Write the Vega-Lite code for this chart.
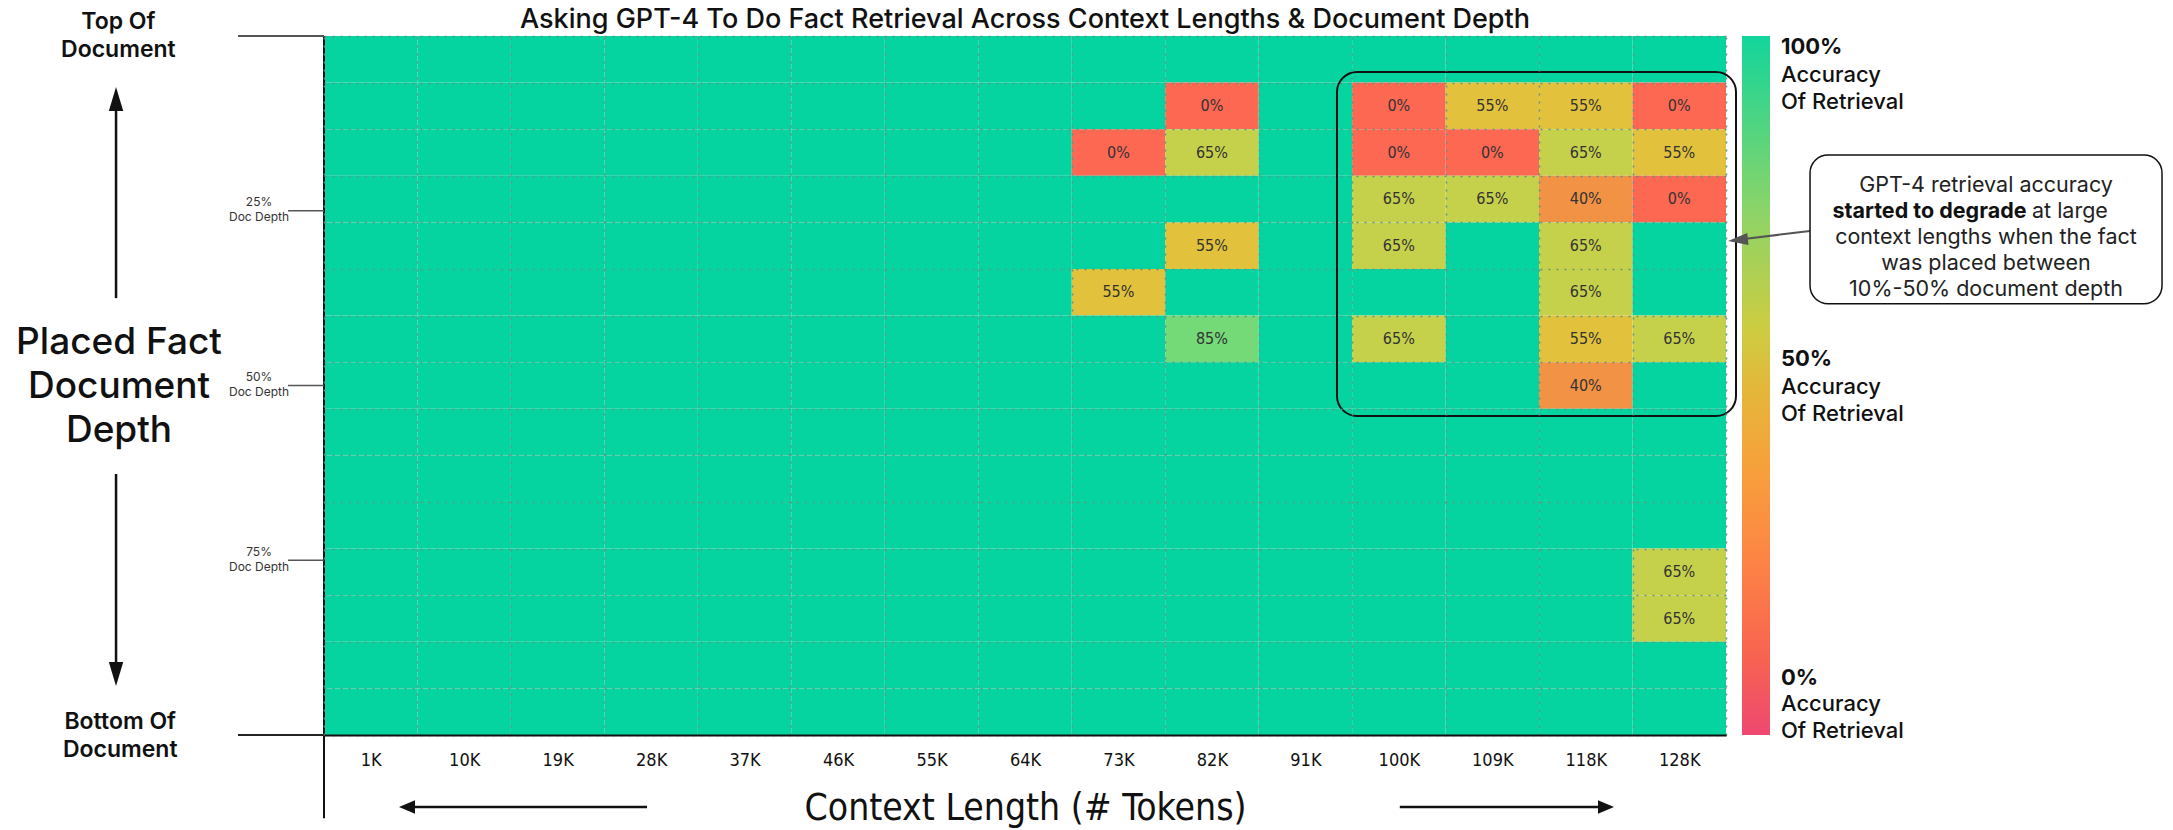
{
  "$schema": "https://vega.github.io/schema/vega-lite/v6.json",
  "width": 1402,
  "height": 699,
  "autosize": {"type": "none"},
  "padding": {"left": 324, "top": 36, "right": 447, "bottom": 95},
  "background": "white",
  "config": {"view": {"stroke": null}, "font": "Inter"},
  "title": {"text": "Asking GPT-4 To Do Fact Retrieval Across Context Lengths & Document Depth", "anchor": "middle", "frame": "group", "fontSize": 27, "fontWeight": 500, "font": "Inter", "color": "#111", "baseline": "alphabetic", "offset": -44},
  "datasets": {
    "one": [{}],
    "ticks": [{"depth": 25, "label": "25%\nDoc Depth"}, {"depth": 50, "label": "50%\nDoc Depth"}, {"depth": 75, "label": "75%\nDoc Depth"}],
    "cells": [
      {"context":"1K","depth":0,"accuracy":1},{"context":"10K","depth":0,"accuracy":1},{"context":"19K","depth":0,"accuracy":1},{"context":"28K","depth":0,"accuracy":1},{"context":"37K","depth":0,"accuracy":1},{"context":"46K","depth":0,"accuracy":1},{"context":"55K","depth":0,"accuracy":1},{"context":"64K","depth":0,"accuracy":1},{"context":"73K","depth":0,"accuracy":1},{"context":"82K","depth":0,"accuracy":1},{"context":"91K","depth":0,"accuracy":1},{"context":"100K","depth":0,"accuracy":1},{"context":"109K","depth":0,"accuracy":1},{"context":"118K","depth":0,"accuracy":1},{"context":"128K","depth":0,"accuracy":1},
      {"context":"1K","depth":7,"accuracy":1},{"context":"10K","depth":7,"accuracy":1},{"context":"19K","depth":7,"accuracy":1},{"context":"28K","depth":7,"accuracy":1},{"context":"37K","depth":7,"accuracy":1},{"context":"46K","depth":7,"accuracy":1},{"context":"55K","depth":7,"accuracy":1},{"context":"64K","depth":7,"accuracy":1},{"context":"73K","depth":7,"accuracy":1},{"context":"82K","depth":7,"accuracy":0},{"context":"91K","depth":7,"accuracy":1},{"context":"100K","depth":7,"accuracy":0},{"context":"109K","depth":7,"accuracy":0.55},{"context":"118K","depth":7,"accuracy":0.55},{"context":"128K","depth":7,"accuracy":0},
      {"context":"1K","depth":14,"accuracy":1},{"context":"10K","depth":14,"accuracy":1},{"context":"19K","depth":14,"accuracy":1},{"context":"28K","depth":14,"accuracy":1},{"context":"37K","depth":14,"accuracy":1},{"context":"46K","depth":14,"accuracy":1},{"context":"55K","depth":14,"accuracy":1},{"context":"64K","depth":14,"accuracy":1},{"context":"73K","depth":14,"accuracy":0},{"context":"82K","depth":14,"accuracy":0.65},{"context":"91K","depth":14,"accuracy":1},{"context":"100K","depth":14,"accuracy":0},{"context":"109K","depth":14,"accuracy":0},{"context":"118K","depth":14,"accuracy":0.65},{"context":"128K","depth":14,"accuracy":0.55},
      {"context":"1K","depth":21,"accuracy":1},{"context":"10K","depth":21,"accuracy":1},{"context":"19K","depth":21,"accuracy":1},{"context":"28K","depth":21,"accuracy":1},{"context":"37K","depth":21,"accuracy":1},{"context":"46K","depth":21,"accuracy":1},{"context":"55K","depth":21,"accuracy":1},{"context":"64K","depth":21,"accuracy":1},{"context":"73K","depth":21,"accuracy":1},{"context":"82K","depth":21,"accuracy":1},{"context":"91K","depth":21,"accuracy":1},{"context":"100K","depth":21,"accuracy":0.65},{"context":"109K","depth":21,"accuracy":0.65},{"context":"118K","depth":21,"accuracy":0.4},{"context":"128K","depth":21,"accuracy":0},
      {"context":"1K","depth":29,"accuracy":1},{"context":"10K","depth":29,"accuracy":1},{"context":"19K","depth":29,"accuracy":1},{"context":"28K","depth":29,"accuracy":1},{"context":"37K","depth":29,"accuracy":1},{"context":"46K","depth":29,"accuracy":1},{"context":"55K","depth":29,"accuracy":1},{"context":"64K","depth":29,"accuracy":1},{"context":"73K","depth":29,"accuracy":1},{"context":"82K","depth":29,"accuracy":0.55},{"context":"91K","depth":29,"accuracy":1},{"context":"100K","depth":29,"accuracy":0.65},{"context":"109K","depth":29,"accuracy":1},{"context":"118K","depth":29,"accuracy":0.65},{"context":"128K","depth":29,"accuracy":1},
      {"context":"1K","depth":36,"accuracy":1},{"context":"10K","depth":36,"accuracy":1},{"context":"19K","depth":36,"accuracy":1},{"context":"28K","depth":36,"accuracy":1},{"context":"37K","depth":36,"accuracy":1},{"context":"46K","depth":36,"accuracy":1},{"context":"55K","depth":36,"accuracy":1},{"context":"64K","depth":36,"accuracy":1},{"context":"73K","depth":36,"accuracy":0.55},{"context":"82K","depth":36,"accuracy":1},{"context":"91K","depth":36,"accuracy":1},{"context":"100K","depth":36,"accuracy":1},{"context":"109K","depth":36,"accuracy":1},{"context":"118K","depth":36,"accuracy":0.65},{"context":"128K","depth":36,"accuracy":1},
      {"context":"1K","depth":43,"accuracy":1},{"context":"10K","depth":43,"accuracy":1},{"context":"19K","depth":43,"accuracy":1},{"context":"28K","depth":43,"accuracy":1},{"context":"37K","depth":43,"accuracy":1},{"context":"46K","depth":43,"accuracy":1},{"context":"55K","depth":43,"accuracy":1},{"context":"64K","depth":43,"accuracy":1},{"context":"73K","depth":43,"accuracy":1},{"context":"82K","depth":43,"accuracy":0.85},{"context":"91K","depth":43,"accuracy":1},{"context":"100K","depth":43,"accuracy":0.65},{"context":"109K","depth":43,"accuracy":1},{"context":"118K","depth":43,"accuracy":0.55},{"context":"128K","depth":43,"accuracy":0.65},
      {"context":"1K","depth":50,"accuracy":1},{"context":"10K","depth":50,"accuracy":1},{"context":"19K","depth":50,"accuracy":1},{"context":"28K","depth":50,"accuracy":1},{"context":"37K","depth":50,"accuracy":1},{"context":"46K","depth":50,"accuracy":1},{"context":"55K","depth":50,"accuracy":1},{"context":"64K","depth":50,"accuracy":1},{"context":"73K","depth":50,"accuracy":1},{"context":"82K","depth":50,"accuracy":1},{"context":"91K","depth":50,"accuracy":1},{"context":"100K","depth":50,"accuracy":1},{"context":"109K","depth":50,"accuracy":1},{"context":"118K","depth":50,"accuracy":0.4},{"context":"128K","depth":50,"accuracy":1},
      {"context":"1K","depth":57,"accuracy":1},{"context":"10K","depth":57,"accuracy":1},{"context":"19K","depth":57,"accuracy":1},{"context":"28K","depth":57,"accuracy":1},{"context":"37K","depth":57,"accuracy":1},{"context":"46K","depth":57,"accuracy":1},{"context":"55K","depth":57,"accuracy":1},{"context":"64K","depth":57,"accuracy":1},{"context":"73K","depth":57,"accuracy":1},{"context":"82K","depth":57,"accuracy":1},{"context":"91K","depth":57,"accuracy":1},{"context":"100K","depth":57,"accuracy":1},{"context":"109K","depth":57,"accuracy":1},{"context":"118K","depth":57,"accuracy":1},{"context":"128K","depth":57,"accuracy":1},
      {"context":"1K","depth":64,"accuracy":1},{"context":"10K","depth":64,"accuracy":1},{"context":"19K","depth":64,"accuracy":1},{"context":"28K","depth":64,"accuracy":1},{"context":"37K","depth":64,"accuracy":1},{"context":"46K","depth":64,"accuracy":1},{"context":"55K","depth":64,"accuracy":1},{"context":"64K","depth":64,"accuracy":1},{"context":"73K","depth":64,"accuracy":1},{"context":"82K","depth":64,"accuracy":1},{"context":"91K","depth":64,"accuracy":1},{"context":"100K","depth":64,"accuracy":1},{"context":"109K","depth":64,"accuracy":1},{"context":"118K","depth":64,"accuracy":1},{"context":"128K","depth":64,"accuracy":1},
      {"context":"1K","depth":71,"accuracy":1},{"context":"10K","depth":71,"accuracy":1},{"context":"19K","depth":71,"accuracy":1},{"context":"28K","depth":71,"accuracy":1},{"context":"37K","depth":71,"accuracy":1},{"context":"46K","depth":71,"accuracy":1},{"context":"55K","depth":71,"accuracy":1},{"context":"64K","depth":71,"accuracy":1},{"context":"73K","depth":71,"accuracy":1},{"context":"82K","depth":71,"accuracy":1},{"context":"91K","depth":71,"accuracy":1},{"context":"100K","depth":71,"accuracy":1},{"context":"109K","depth":71,"accuracy":1},{"context":"118K","depth":71,"accuracy":1},{"context":"128K","depth":71,"accuracy":1},
      {"context":"1K","depth":79,"accuracy":1},{"context":"10K","depth":79,"accuracy":1},{"context":"19K","depth":79,"accuracy":1},{"context":"28K","depth":79,"accuracy":1},{"context":"37K","depth":79,"accuracy":1},{"context":"46K","depth":79,"accuracy":1},{"context":"55K","depth":79,"accuracy":1},{"context":"64K","depth":79,"accuracy":1},{"context":"73K","depth":79,"accuracy":1},{"context":"82K","depth":79,"accuracy":1},{"context":"91K","depth":79,"accuracy":1},{"context":"100K","depth":79,"accuracy":1},{"context":"109K","depth":79,"accuracy":1},{"context":"118K","depth":79,"accuracy":1},{"context":"128K","depth":79,"accuracy":0.65},
      {"context":"1K","depth":86,"accuracy":1},{"context":"10K","depth":86,"accuracy":1},{"context":"19K","depth":86,"accuracy":1},{"context":"28K","depth":86,"accuracy":1},{"context":"37K","depth":86,"accuracy":1},{"context":"46K","depth":86,"accuracy":1},{"context":"55K","depth":86,"accuracy":1},{"context":"64K","depth":86,"accuracy":1},{"context":"73K","depth":86,"accuracy":1},{"context":"82K","depth":86,"accuracy":1},{"context":"91K","depth":86,"accuracy":1},{"context":"100K","depth":86,"accuracy":1},{"context":"109K","depth":86,"accuracy":1},{"context":"118K","depth":86,"accuracy":1},{"context":"128K","depth":86,"accuracy":0.65},
      {"context":"1K","depth":93,"accuracy":1},{"context":"10K","depth":93,"accuracy":1},{"context":"19K","depth":93,"accuracy":1},{"context":"28K","depth":93,"accuracy":1},{"context":"37K","depth":93,"accuracy":1},{"context":"46K","depth":93,"accuracy":1},{"context":"55K","depth":93,"accuracy":1},{"context":"64K","depth":93,"accuracy":1},{"context":"73K","depth":93,"accuracy":1},{"context":"82K","depth":93,"accuracy":1},{"context":"91K","depth":93,"accuracy":1},{"context":"100K","depth":93,"accuracy":1},{"context":"109K","depth":93,"accuracy":1},{"context":"118K","depth":93,"accuracy":1},{"context":"128K","depth":93,"accuracy":1},
      {"context":"1K","depth":100,"accuracy":1},{"context":"10K","depth":100,"accuracy":1},{"context":"19K","depth":100,"accuracy":1},{"context":"28K","depth":100,"accuracy":1},{"context":"37K","depth":100,"accuracy":1},{"context":"46K","depth":100,"accuracy":1},{"context":"55K","depth":100,"accuracy":1},{"context":"64K","depth":100,"accuracy":1},{"context":"73K","depth":100,"accuracy":1},{"context":"82K","depth":100,"accuracy":1},{"context":"91K","depth":100,"accuracy":1},{"context":"100K","depth":100,"accuracy":1},{"context":"109K","depth":100,"accuracy":1},{"context":"118K","depth":100,"accuracy":1},{"context":"128K","depth":100,"accuracy":1}
    ]
  },
  "layer": [
    {
      "data": {"name": "cells"},
      "encoding": {
        "x": {"field": "context", "type": "nominal", "sort": ["1K","10K","19K","28K","37K","46K","55K","64K","73K","82K","91K","100K","109K","118K","128K"], "scale": {"paddingInner": 0, "paddingOuter": 0},
          "axis": {"orient": "bottom", "title": "Context Length (# Tokens)", "labelAngle": 0, "labelFont": "Liberation Sans Narrow, DejaVu Sans Condensed, Arial Narrow, sans-serif", "labelFontSize": 18, "labelColor": "#111", "labelBaseline": "middle", "labelPadding": 25, "ticks": false, "tickSize": 0, "domain": true, "domainColor": "#111", "domainWidth": 2, "grid": true, "gridColor": "#5f9484", "gridDash": [2, 6], "gridWidth": 1.5, "tickBand": "extent", "zindex": 1, "titleFont": "Liberation Sans Narrow, DejaVu Sans Condensed, Arial Narrow, sans-serif", "titleFontSize": 37, "titleFontWeight": "normal", "titleColor": "#111", "titleY": 73, "titleBaseline": "middle"}},
        "y": {"field": "depth", "type": "ordinal", "scale": {"paddingInner": 0, "paddingOuter": 0},
          "axis": {"orient": "left", "labels": false, "ticks": false, "domain": false, "title": null, "grid": true, "gridColor": "#5f9484", "gridDash": [2, 6], "gridWidth": 1.5, "tickBand": "extent", "zindex": 1}}
      },
      "layer": [
        {"mark": {"type": "rect"},
         "encoding": {"color": {"field": "accuracy", "type": "quantitative",
           "scale": {"domain": [0, 0.4, 0.55, 0.65, 0.85, 1], "range": ["#fd6853", "#f29244", "#e2c23c", "#c6d14b", "#74d977", "#06d4a0"], "interpolate": "rgb"},
           "legend": null}}},
        {"transform": [{"filter": "datum.accuracy < 1"}],
         "mark": {"type": "text", "font": "Liberation Sans Narrow, DejaVu Sans Condensed, Arial Narrow, sans-serif", "fontSize": 16, "color": "#333"},
         "encoding": {"text": {"field": "accuracy", "type": "quantitative", "format": ".0%"}}}
      ]
    },
    {
      "layer": [
        {"data": {"name": "one"},
         "mark": {"type": "rule", "color": "#111", "strokeWidth": 2},
         "encoding": {"x": {"datum": 0, "type": "quantitative", "scale": {"domain": [0, 15], "nice": false, "zero": false}, "axis": null},
           "y": {"datum": 0, "type": "quantitative", "scale": {"domain": [0, 100], "nice": false, "zero": false, "reverse": true}, "axis": null},
           "y2": {"datum": 111.9}}},
        {"data": {"name": "ticks"},
         "mark": {"type": "rule", "color": "#555", "strokeWidth": 1.5},
         "encoding": {"x": {"datum": -0.385, "type": "quantitative", "scale": {"domain": [0, 15], "nice": false, "zero": false}, "axis": null}, "x2": {"datum": 0},
           "y": {"field": "depth", "type": "quantitative", "scale": {"domain": [0, 100], "nice": false, "zero": false, "reverse": true}, "axis": null}}},
        {"data": {"name": "ticks"},
         "mark": {"type": "text", "lineBreak": "\n", "font": "Inter", "fontSize": 12, "lineHeight": 15, "align": "center", "baseline": "middle", "color": "#333", "dy": -8.5},
         "encoding": {"x": {"datum": -0.695, "type": "quantitative", "scale": {"domain": [0, 15], "nice": false, "zero": false}, "axis": null},
           "y": {"field": "depth", "type": "quantitative", "scale": {"domain": [0, 100], "nice": false, "zero": false, "reverse": true}, "axis": null},
           "text": {"field": "label", "type": "nominal"}}},
        {"data": {"name": "one"},
         "mark": {"type": "rule", "color": "#555", "strokeWidth": 2},
         "encoding": {"x": {"datum": -0.92, "type": "quantitative", "scale": {"domain": [0, 15], "nice": false, "zero": false}, "axis": null}, "x2": {"datum": 0},
           "y": {"datum": 0, "type": "quantitative", "scale": {"domain": [0, 100], "nice": false, "zero": false, "reverse": true}, "axis": null}}},
        {"data": {"name": "one"},
         "mark": {"type": "rule", "color": "#222", "strokeWidth": 2},
         "encoding": {"x": {"datum": -0.92, "type": "quantitative", "scale": {"domain": [0, 15], "nice": false, "zero": false}, "axis": null}, "x2": {"datum": 0},
           "y": {"datum": 100, "type": "quantitative", "scale": {"domain": [0, 100], "nice": false, "zero": false, "reverse": true}, "axis": null}}},
        {"data": {"name": "one"},
         "mark": {"type": "text", "text": "Top Of\nDocument", "lineBreak": "\n", "font": "Inter", "fontSize": 23, "fontWeight": 600, "lineHeight": 28, "align": "center", "baseline": "middle", "color": "#111"},
         "encoding": {"x": {"datum": -2.2, "type": "quantitative", "scale": {"domain": [0, 15], "nice": false, "zero": false}, "axis": null},
           "y": {"datum": -2.0, "type": "quantitative", "scale": {"domain": [0, 100], "nice": false, "zero": false, "reverse": true}, "axis": null}}},
        {"data": {"name": "one"},
         "mark": {"type": "text", "text": "Placed Fact\nDocument\nDepth", "lineBreak": "\n", "font": "Inter", "fontSize": 37, "fontWeight": 500, "lineHeight": 44, "align": "center", "baseline": "middle", "color": "#111"},
         "encoding": {"x": {"datum": -2.193, "type": "quantitative", "scale": {"domain": [0, 15], "nice": false, "zero": false}, "axis": null},
           "y": {"datum": 43.92, "type": "quantitative", "scale": {"domain": [0, 100], "nice": false, "zero": false, "reverse": true}, "axis": null}}},
        {"data": {"name": "one"},
         "mark": {"type": "text", "text": "Bottom Of\nDocument", "lineBreak": "\n", "font": "Inter", "fontSize": 23, "fontWeight": 600, "lineHeight": 28, "align": "center", "baseline": "middle", "color": "#111"},
         "encoding": {"x": {"datum": -2.18, "type": "quantitative", "scale": {"domain": [0, 15], "nice": false, "zero": false}, "axis": null},
           "y": {"datum": 98.14, "type": "quantitative", "scale": {"domain": [0, 100], "nice": false, "zero": false, "reverse": true}, "axis": null}}},
        {"data": {"name": "one"},
         "mark": {"type": "rule", "color": "#111", "strokeWidth": 2.5},
         "encoding": {"x": {"datum": -2.225, "type": "quantitative", "scale": {"domain": [0, 15], "nice": false, "zero": false}, "axis": null},
           "y": {"datum": 37.5, "type": "quantitative", "scale": {"domain": [0, 100], "nice": false, "zero": false, "reverse": true}, "axis": null}, "y2": {"datum": 9.3}}},
        {"data": {"name": "one"},
         "mark": {"type": "point", "shape": "M0,-1L0.6,1L-0.6,1Z", "filled": true, "color": "#111", "opacity": 1, "size": 576},
         "encoding": {"x": {"datum": -2.225, "type": "quantitative", "scale": {"domain": [0, 15], "nice": false, "zero": false}, "axis": null},
           "y": {"datum": 9.01, "type": "quantitative", "scale": {"domain": [0, 100], "nice": false, "zero": false, "reverse": true}, "axis": null}}},
        {"data": {"name": "one"},
         "mark": {"type": "rule", "color": "#111", "strokeWidth": 2.5},
         "encoding": {"x": {"datum": -2.225, "type": "quantitative", "scale": {"domain": [0, 15], "nice": false, "zero": false}, "axis": null},
           "y": {"datum": 62.66, "type": "quantitative", "scale": {"domain": [0, 100], "nice": false, "zero": false, "reverse": true}, "axis": null}, "y2": {"datum": 91.0}}},
        {"data": {"name": "one"},
         "mark": {"type": "point", "shape": "M0,1L0.6,-1L-0.6,-1Z", "filled": true, "color": "#111", "opacity": 1, "size": 576},
         "encoding": {"x": {"datum": -2.225, "type": "quantitative", "scale": {"domain": [0, 15], "nice": false, "zero": false}, "axis": null},
           "y": {"datum": 91.27, "type": "quantitative", "scale": {"domain": [0, 100], "nice": false, "zero": false, "reverse": true}, "axis": null}}},
        {"data": {"name": "one"},
         "mark": {"type": "rule", "color": "#111", "strokeWidth": 2.5},
         "encoding": {"x": {"datum": 3.456, "type": "quantitative", "scale": {"domain": [0, 15], "nice": false, "zero": false}, "axis": null}, "x2": {"datum": 0.95},
           "y": {"datum": 110.3, "type": "quantitative", "scale": {"domain": [0, 100], "nice": false, "zero": false, "reverse": true}, "axis": null}}},
        {"data": {"name": "one"},
         "mark": {"type": "point", "shape": "M-1,0L1,-0.85L1,0.85Z", "filled": true, "color": "#111", "opacity": 1, "size": 256},
         "encoding": {"x": {"datum": 0.888, "type": "quantitative", "scale": {"domain": [0, 15], "nice": false, "zero": false}, "axis": null},
           "y": {"datum": 110.3, "type": "quantitative", "scale": {"domain": [0, 100], "nice": false, "zero": false, "reverse": true}, "axis": null}}},
        {"data": {"name": "one"},
         "mark": {"type": "rule", "color": "#111", "strokeWidth": 2.5},
         "encoding": {"x": {"datum": 11.51, "type": "quantitative", "scale": {"domain": [0, 15], "nice": false, "zero": false}, "axis": null}, "x2": {"datum": 13.65},
           "y": {"datum": 110.3, "type": "quantitative", "scale": {"domain": [0, 100], "nice": false, "zero": false, "reverse": true}, "axis": null}}},
        {"data": {"name": "one"},
         "mark": {"type": "point", "shape": "M1,0L-1,-0.85L-1,0.85Z", "filled": true, "color": "#111", "opacity": 1, "size": 256},
         "encoding": {"x": {"datum": 13.716, "type": "quantitative", "scale": {"domain": [0, 15], "nice": false, "zero": false}, "axis": null},
           "y": {"datum": 110.3, "type": "quantitative", "scale": {"domain": [0, 100], "nice": false, "zero": false, "reverse": true}, "axis": null}}},
        {"data": {"name": "one"},
         "mark": {"type": "rect", "fill": "transparent", "stroke": "#111", "strokeWidth": 2, "cornerRadius": 20},
         "encoding": {"x": {"datum": 10.838, "type": "quantitative", "scale": {"domain": [0, 15], "nice": false, "zero": false}, "axis": null}, "x2": {"datum": 15.107},
           "y": {"datum": 5.15, "type": "quantitative", "scale": {"domain": [0, 100], "nice": false, "zero": false, "reverse": true}, "axis": null}, "y2": {"datum": 54.36}}},
        {"data": {"name": "one"},
         "mark": {"type": "rect", "color": {"gradient": "linear", "x1": 0, "y1": 0, "x2": 0, "y2": 1, "stops": [{"offset": 0, "color": "#12d59b"}, {"offset": 0.25, "color": "#8cd468"}, {"offset": 0.42, "color": "#cdcc40"}, {"offset": 0.5, "color": "#e3b83a"}, {"offset": 0.62, "color": "#f7a03b"}, {"offset": 0.75, "color": "#fd8445"}, {"offset": 0.88, "color": "#f8654f"}, {"offset": 1, "color": "#ee4870"}]}},
         "encoding": {"x": {"datum": 15.171, "type": "quantitative", "scale": {"domain": [0, 15], "nice": false, "zero": false}, "axis": null}, "x2": {"datum": 15.471},
           "y": {"datum": 0, "type": "quantitative", "scale": {"domain": [0, 100], "nice": false, "zero": false, "reverse": true}, "axis": null}, "y2": {"datum": 100}}},
        {"data": {"name": "one"},
         "mark": {"type": "rule", "color": "#555", "strokeWidth": 2},
         "encoding": {"x": {"datum": 15.899, "type": "quantitative", "scale": {"domain": [0, 15], "nice": false, "zero": false}, "axis": null}, "x2": {"datum": 15.15},
           "y": {"datum": 27.9, "type": "quantitative", "scale": {"domain": [0, 100], "nice": false, "zero": false, "reverse": true}, "axis": null}, "y2": {"datum": 29.1}}},
        {"data": {"name": "one"},
         "mark": {"type": "point", "shape": "M-1,0L1,-0.6L1,0.6Z", "filled": true, "color": "#555", "opacity": 1, "size": 400, "angle": -6},
         "encoding": {"x": {"datum": 15.128, "type": "quantitative", "scale": {"domain": [0, 15], "nice": false, "zero": false}, "axis": null},
           "y": {"datum": 29.18, "type": "quantitative", "scale": {"domain": [0, 100], "nice": false, "zero": false, "reverse": true}, "axis": null}}},
        {"data": {"name": "one"},
         "mark": {"type": "rect", "fill": "white", "stroke": "#111", "strokeWidth": 1.5, "cornerRadius": 18},
         "encoding": {"x": {"datum": 15.899, "type": "quantitative", "scale": {"domain": [0, 15], "nice": false, "zero": false}, "axis": null}, "x2": {"datum": 19.665},
           "y": {"datum": 17.02, "type": "quantitative", "scale": {"domain": [0, 100], "nice": false, "zero": false, "reverse": true}, "axis": null}, "y2": {"datum": 38.3}}},
        {"data": {"name": "one"},
         "mark": {"type": "text", "text": "GPT-4 retrieval accuracy", "font": "Inter", "fontSize": 21.5, "align": "center", "baseline": "middle", "color": "#222"},
         "encoding": {"x": {"datum": 17.782, "type": "quantitative", "scale": {"domain": [0, 15], "nice": false, "zero": false}, "axis": null},
           "y": {"datum": 21.43, "type": "quantitative", "scale": {"domain": [0, 100], "nice": false, "zero": false, "reverse": true}, "axis": null}}},
        {"data": {"name": "one"},
         "mark": {"type": "text", "text": "started to degrade", "font": "Inter", "fontSize": 21.5, "fontWeight": "bold", "align": "right", "baseline": "middle", "color": "#111"},
         "encoding": {"x": {"datum": 18.215, "type": "quantitative", "scale": {"domain": [0, 15], "nice": false, "zero": false}, "axis": null},
           "y": {"datum": 25.15, "type": "quantitative", "scale": {"domain": [0, 100], "nice": false, "zero": false, "reverse": true}, "axis": null}}},
        {"data": {"name": "one"},
         "mark": {"type": "text", "text": "at large", "font": "Inter", "fontSize": 21.5, "align": "left", "baseline": "middle", "color": "#222"},
         "encoding": {"x": {"datum": 18.274, "type": "quantitative", "scale": {"domain": [0, 15], "nice": false, "zero": false}, "axis": null},
           "y": {"datum": 25.15, "type": "quantitative", "scale": {"domain": [0, 100], "nice": false, "zero": false, "reverse": true}, "axis": null}}},
        {"data": {"name": "one"},
         "mark": {"type": "text", "text": "context lengths when the fact\nwas placed between\n10%-50% document depth", "lineBreak": "\n", "font": "Inter", "fontSize": 21.5, "lineHeight": 26, "align": "center", "baseline": "middle", "color": "#222"},
         "encoding": {"x": {"datum": 17.782, "type": "quantitative", "scale": {"domain": [0, 15], "nice": false, "zero": false}, "axis": null},
           "y": {"datum": 28.87, "type": "quantitative", "scale": {"domain": [0, 100], "nice": false, "zero": false, "reverse": true}, "axis": null}}},
        {"data": {"name": "one"},
         "mark": {"type": "text", "text": "100%", "font": "Inter", "fontSize": 22, "fontWeight": "bold", "align": "left", "baseline": "middle", "color": "#111"},
         "encoding": {"x": {"datum": 15.588, "type": "quantitative", "scale": {"domain": [0, 15], "nice": false, "zero": false}, "axis": null},
           "y": {"datum": 1.57, "type": "quantitative", "scale": {"domain": [0, 100], "nice": false, "zero": false, "reverse": true}, "axis": null}}},
        {"data": {"name": "one"},
         "mark": {"type": "text", "text": "Accuracy\nOf Retrieval", "lineBreak": "\n", "font": "Inter", "fontSize": 22, "fontWeight": 500, "lineHeight": 27, "align": "left", "baseline": "middle", "color": "#111"},
         "encoding": {"x": {"datum": 15.588, "type": "quantitative", "scale": {"domain": [0, 15], "nice": false, "zero": false}, "axis": null},
           "y": {"datum": 5.58, "type": "quantitative", "scale": {"domain": [0, 100], "nice": false, "zero": false, "reverse": true}, "axis": null}}},
        {"data": {"name": "one"},
         "mark": {"type": "text", "text": "50%", "font": "Inter", "fontSize": 22, "fontWeight": "bold", "align": "left", "baseline": "middle", "color": "#111"},
         "encoding": {"x": {"datum": 15.588, "type": "quantitative", "scale": {"domain": [0, 15], "nice": false, "zero": false}, "axis": null},
           "y": {"datum": 46.21, "type": "quantitative", "scale": {"domain": [0, 100], "nice": false, "zero": false, "reverse": true}, "axis": null}}},
        {"data": {"name": "one"},
         "mark": {"type": "text", "text": "Accuracy\nOf Retrieval", "lineBreak": "\n", "font": "Inter", "fontSize": 22, "fontWeight": 500, "lineHeight": 27, "align": "left", "baseline": "middle", "color": "#111"},
         "encoding": {"x": {"datum": 15.588, "type": "quantitative", "scale": {"domain": [0, 15], "nice": false, "zero": false}, "axis": null},
           "y": {"datum": 50.22, "type": "quantitative", "scale": {"domain": [0, 100], "nice": false, "zero": false, "reverse": true}, "axis": null}}},
        {"data": {"name": "one"},
         "mark": {"type": "text", "text": "0%", "font": "Inter", "fontSize": 22, "fontWeight": "bold", "align": "left", "baseline": "middle", "color": "#111"},
         "encoding": {"x": {"datum": 15.588, "type": "quantitative", "scale": {"domain": [0, 15], "nice": false, "zero": false}, "axis": null},
           "y": {"datum": 91.85, "type": "quantitative", "scale": {"domain": [0, 100], "nice": false, "zero": false, "reverse": true}, "axis": null}}},
        {"data": {"name": "one"},
         "mark": {"type": "text", "text": "Accuracy\nOf Retrieval", "lineBreak": "\n", "font": "Inter", "fontSize": 22, "fontWeight": 500, "lineHeight": 27, "align": "left", "baseline": "middle", "color": "#111"},
         "encoding": {"x": {"datum": 15.588, "type": "quantitative", "scale": {"domain": [0, 15], "nice": false, "zero": false}, "axis": null},
           "y": {"datum": 95.57, "type": "quantitative", "scale": {"domain": [0, 100], "nice": false, "zero": false, "reverse": true}, "axis": null}}}
      ]
    }
  ],
  "resolve": {"scale": {"x": "independent", "y": "independent"}}
}
